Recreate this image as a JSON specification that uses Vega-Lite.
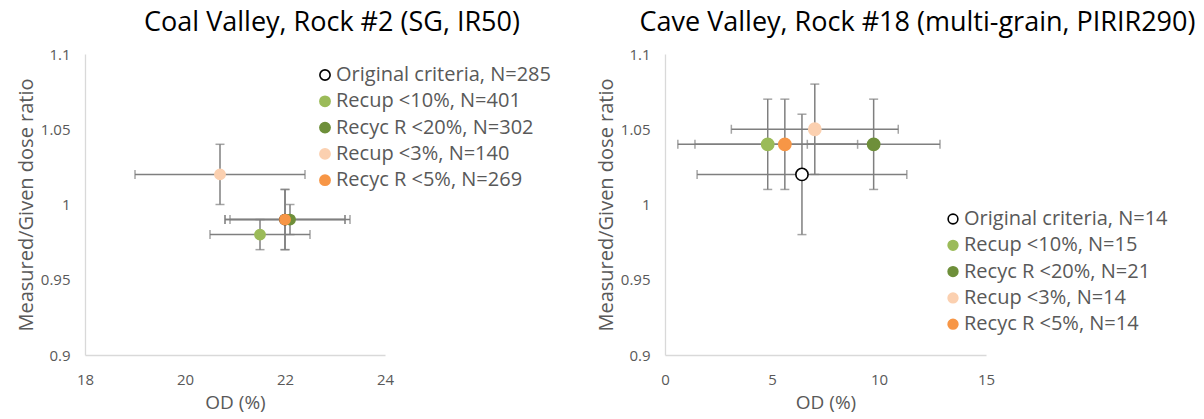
{
  "$schema": "https://vega.github.io/schema/vega-lite/v6.json",
  "background": "white",
  "padding": {"left": 16, "top": 9, "right": 0, "bottom": 0},
  "spacing": 45,
  "datasets": {
    "left": [
      {"series": "Original criteria, N=285", "od": 22.0, "ratio": 0.99, "od_lo": 20.8, "od_hi": 23.2, "ratio_lo": 0.97, "ratio_hi": 1.01},
      {"series": "Recup <10%, N=401", "od": 21.5, "ratio": 0.98, "od_lo": 20.5, "od_hi": 22.5, "ratio_lo": 0.97, "ratio_hi": 0.99},
      {"series": "Recyc R <20%, N=302", "od": 22.1, "ratio": 0.99, "od_lo": 20.9, "od_hi": 23.3, "ratio_lo": 0.98, "ratio_hi": 1.0},
      {"series": "Recup <3%, N=140", "od": 20.7, "ratio": 1.02, "od_lo": 19.0, "od_hi": 22.4, "ratio_lo": 1.0, "ratio_hi": 1.04},
      {"series": "Recyc R <5%, N=269", "od": 22.0, "ratio": 0.99, "od_lo": 20.8, "od_hi": 23.2, "ratio_lo": 0.97, "ratio_hi": 1.01}
    ],
    "right": [
      {"series": "Original criteria, N=14", "od": 6.4, "ratio": 1.02, "od_lo": 1.5, "od_hi": 11.3, "ratio_lo": 0.98, "ratio_hi": 1.06},
      {"series": "Recup <10%, N=15", "od": 4.8, "ratio": 1.04, "od_lo": 0.6, "od_hi": 9.0, "ratio_lo": 1.01, "ratio_hi": 1.07},
      {"series": "Recyc R <20%, N=21", "od": 9.75, "ratio": 1.04, "od_lo": 6.65, "od_hi": 12.85, "ratio_lo": 1.01, "ratio_hi": 1.07},
      {"series": "Recup <3%, N=14", "od": 7.0, "ratio": 1.05, "od_lo": 3.1, "od_hi": 10.9, "ratio_lo": 1.02, "ratio_hi": 1.08},
      {"series": "Recyc R <5%, N=14", "od": 5.6, "ratio": 1.04, "od_lo": 1.4, "od_hi": 9.8, "ratio_lo": 1.01, "ratio_hi": 1.07}
    ]
  },
  "hconcat": [
    {
      "data": {"name": "left"},
      "width": 300,
      "height": 301,
      "title": {"text": "Coal Valley, Rock #2 (SG, IR50)", "dx": 97, "offset": 10},
      "layer": [
        {
          "mark": {"type": "rule", "color": "#7f7f7f", "strokeWidth": 1.5},
          "encoding": {
            "x": {"field": "od_lo", "type": "quantitative", "title": "OD (%)", "scale": {"domain": [18, 24], "nice": false}, "axis": {"values": [18, 20, 22, 24]}},
            "x2": {"field": "od_hi"},
            "y": {"field": "ratio", "type": "quantitative", "title": "Measured/Given dose ratio", "scale": {"domain": [0.9, 1.1], "nice": false}, "axis": {"values": [0.9, 0.95, 1, 1.05, 1.1], "format": "~g"}}
          }
        },
        {
          "mark": {"type": "rule", "color": "#7f7f7f", "strokeWidth": 1.5},
          "encoding": {
            "x": {"field": "od", "type": "quantitative", "title": "OD (%)"},
            "y": {"field": "ratio_lo", "type": "quantitative", "title": "Measured/Given dose ratio"},
            "y2": {"field": "ratio_hi"}
          }
        },
        {
          "mark": {"type": "tick", "orient": "vertical", "size": 9, "thickness": 1.5, "color": "#7f7f7f"},
          "encoding": {
            "x": {"field": "od_lo", "type": "quantitative", "title": "OD (%)"},
            "y": {"field": "ratio", "type": "quantitative", "title": "Measured/Given dose ratio"}
          }
        },
        {
          "mark": {"type": "tick", "orient": "vertical", "size": 9, "thickness": 1.5, "color": "#7f7f7f"},
          "encoding": {
            "x": {"field": "od_hi", "type": "quantitative", "title": "OD (%)"},
            "y": {"field": "ratio", "type": "quantitative", "title": "Measured/Given dose ratio"}
          }
        },
        {
          "mark": {"type": "tick", "orient": "horizontal", "size": 9, "thickness": 1.5, "color": "#7f7f7f"},
          "encoding": {
            "x": {"field": "od", "type": "quantitative", "title": "OD (%)"},
            "y": {"field": "ratio_lo", "type": "quantitative", "title": "Measured/Given dose ratio"}
          }
        },
        {
          "mark": {"type": "tick", "orient": "horizontal", "size": 9, "thickness": 1.5, "color": "#7f7f7f"},
          "encoding": {
            "x": {"field": "od", "type": "quantitative", "title": "OD (%)"},
            "y": {"field": "ratio_hi", "type": "quantitative", "title": "Measured/Given dose ratio"}
          }
        },
        {
          "mark": {"type": "point", "shape": "circle", "strokeWidth": 1.6, "opacity": 1, "fillOpacity": 1},
          "encoding": {
            "x": {"field": "od", "type": "quantitative", "title": "OD (%)"},
            "y": {"field": "ratio", "type": "quantitative", "title": "Measured/Given dose ratio"},
            "fill": {"field": "series", "type": "nominal", "sort": null,
              "scale": {"domain": ["Original criteria, N=285", "Recup <10%, N=401", "Recyc R <20%, N=302", "Recup <3%, N=140", "Recyc R <5%, N=269"], "range": ["#ffffff", "#9bbb59", "#6e8f3a", "#fbd0b0", "#f79646"]},
              "legend": {"orient": "none", "legendX": 230, "legendY": 11, "title": null}},
            "stroke": {"field": "series", "type": "nominal", "sort": null,
              "scale": {"domain": ["Original criteria, N=285", "Recup <10%, N=401", "Recyc R <20%, N=302", "Recup <3%, N=140", "Recyc R <5%, N=269"], "range": ["#000000", "#9bbb59", "#6e8f3a", "#fbd0b0", "#f79646"]},
              "legend": {"orient": "none", "legendX": 230, "legendY": 11, "title": null}},
            "size": {"field": "series", "type": "nominal", "sort": null,
              "scale": {"domain": ["Original criteria, N=285", "Recup <10%, N=401", "Recyc R <20%, N=302", "Recup <3%, N=140", "Recyc R <5%, N=269"], "range": [105, 105, 105, 105, 55]},
              "legend": {"orient": "none", "legendX": 230, "legendY": 11, "title": null}}
          }
        }
      ]
    },
    {
      "data": {"name": "right"},
      "width": 321,
      "height": 301,
      "title": {"text": "Cave Valley, Rock #18 (multi-grain, PIRIR290)", "dx": 92, "offset": 10},
      "layer": [
        {
          "mark": {"type": "rule", "color": "#7f7f7f", "strokeWidth": 1.5},
          "encoding": {
            "x": {"field": "od_lo", "type": "quantitative", "title": "OD (%)", "scale": {"domain": [0, 15], "nice": false}, "axis": {"values": [0, 5, 10, 15]}},
            "x2": {"field": "od_hi"},
            "y": {"field": "ratio", "type": "quantitative", "title": "Measured/Given dose ratio", "scale": {"domain": [0.9, 1.1], "nice": false}, "axis": {"values": [0.9, 0.95, 1, 1.05, 1.1], "format": "~g"}}
          }
        },
        {
          "mark": {"type": "rule", "color": "#7f7f7f", "strokeWidth": 1.5},
          "encoding": {
            "x": {"field": "od", "type": "quantitative", "title": "OD (%)"},
            "y": {"field": "ratio_lo", "type": "quantitative", "title": "Measured/Given dose ratio"},
            "y2": {"field": "ratio_hi"}
          }
        },
        {
          "mark": {"type": "tick", "orient": "vertical", "size": 9, "thickness": 1.5, "color": "#7f7f7f"},
          "encoding": {
            "x": {"field": "od_lo", "type": "quantitative", "title": "OD (%)"},
            "y": {"field": "ratio", "type": "quantitative", "title": "Measured/Given dose ratio"}
          }
        },
        {
          "mark": {"type": "tick", "orient": "vertical", "size": 9, "thickness": 1.5, "color": "#7f7f7f"},
          "encoding": {
            "x": {"field": "od_hi", "type": "quantitative", "title": "OD (%)"},
            "y": {"field": "ratio", "type": "quantitative", "title": "Measured/Given dose ratio"}
          }
        },
        {
          "mark": {"type": "tick", "orient": "horizontal", "size": 9, "thickness": 1.5, "color": "#7f7f7f"},
          "encoding": {
            "x": {"field": "od", "type": "quantitative", "title": "OD (%)"},
            "y": {"field": "ratio_lo", "type": "quantitative", "title": "Measured/Given dose ratio"}
          }
        },
        {
          "mark": {"type": "tick", "orient": "horizontal", "size": 9, "thickness": 1.5, "color": "#7f7f7f"},
          "encoding": {
            "x": {"field": "od", "type": "quantitative", "title": "OD (%)"},
            "y": {"field": "ratio_hi", "type": "quantitative", "title": "Measured/Given dose ratio"}
          }
        },
        {
          "mark": {"type": "point", "shape": "circle", "strokeWidth": 1.6, "opacity": 1, "fillOpacity": 1, "size": 150},
          "encoding": {
            "x": {"field": "od", "type": "quantitative", "title": "OD (%)"},
            "y": {"field": "ratio", "type": "quantitative", "title": "Measured/Given dose ratio"},
            "fill": {"field": "series", "type": "nominal", "sort": null,
              "scale": {"domain": ["Original criteria, N=14", "Recup <10%, N=15", "Recyc R <20%, N=21", "Recup <3%, N=14", "Recyc R <5%, N=14"], "range": ["#ffffff", "#9bbb59", "#6e8f3a", "#fbd0b0", "#f79646"]},
              "legend": {"orient": "none", "legendX": 278, "legendY": 155, "title": null, "symbolSize": 95}},
            "stroke": {"field": "series", "type": "nominal", "sort": null,
              "scale": {"domain": ["Original criteria, N=14", "Recup <10%, N=15", "Recyc R <20%, N=21", "Recup <3%, N=14", "Recyc R <5%, N=14"], "range": ["#000000", "#9bbb59", "#6e8f3a", "#fbd0b0", "#f79646"]},
              "legend": {"orient": "none", "legendX": 278, "legendY": 155, "title": null, "symbolSize": 95}}
          }
        }
      ]
    }
  ],
  "resolve": {"scale": {"fill": "independent", "stroke": "independent", "size": "independent", "x": "independent", "y": "independent"}},
  "config": {
    "font": "Open Sans",
    "view": {"stroke": null},
    "title": {"fontSize": 27, "fontWeight": "normal", "color": "#000000", "anchor": "middle", "font": "Open Sans"},
    "axis": {
      "grid": false,
      "ticks": false,
      "labelFlush": false,
      "labelOverlap": false,
      "domainColor": "#d9d9d9",
      "domainWidth": 1.3,
      "labelColor": "#595959",
      "labelFontSize": 15,
      "labelFont": "Open Sans",
      "titleColor": "#595959",
      "titleFontSize": 20,
      "titleFontWeight": "normal",
      "titleFont": "Open Sans"
    },
    "axisX": {"labelPadding": 17, "titlePadding": 6, "titleFontSize": 19, "domain": true},
    "axisY": {"labelPadding": 15, "titlePadding": 4, "domain": true},
    "legend": {
      "labelFontSize": 20,
      "labelColor": "#595959",
      "labelFont": "Open Sans",
      "symbolType": "circle",
      "symbolStrokeWidth": 1.6,
      "rowPadding": 6.3,
      "labelOffset": 1,
      "labelLimit": 400
    }
  }
}
